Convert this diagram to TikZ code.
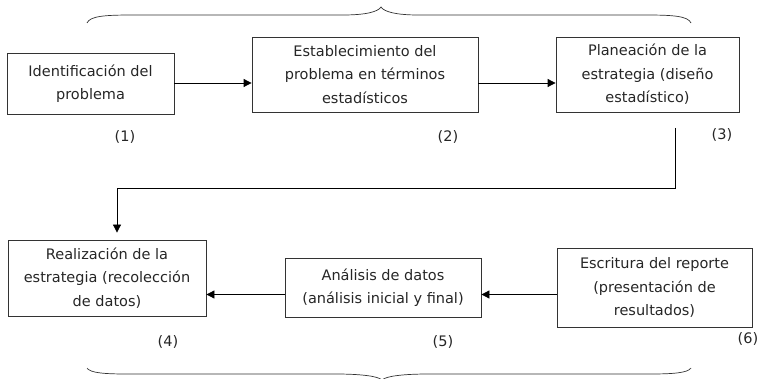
\documentclass[tikz,border=0pt]{standalone}
\usepackage{fontspec}
\setmainfont{DejaVu Sans}
\usetikzlibrary{arrows.meta}
\begin{document}
\begin{tikzpicture}[x=1pt,y=-1pt,
  stepbox/.style={draw=black!80, line width=0.8pt, align=center, inner sep=0pt,
    font=\fontsize{14.5}{23.5}\selectfont, text=black!85},
  tag/.style={font=\fontsize{14.5}{16}\selectfont, text=black!85, inner sep=0pt},
  arr/.style={line width=0.8pt, -{Triangle[length=8pt,width=8pt]}},
  brace/.style={line width=0.7pt, black!80}]
\useasboundingbox (0,0) rectangle (758,379);

% process steps
\node[stepbox, minimum width=167pt, minimum height=61pt] (b1) at (90.5,83.5)
  {Identificación del\\problema};
\node[stepbox, minimum width=226pt, minimum height=75pt] (b2) at (365,74.5)
  {Establecimiento del\\problema en términos\\estadísticos};
\node[stepbox, minimum width=183pt, minimum height=75pt] (b3) at (647.5,74.5)
  {Planeación de la\\estrategia (diseño\\estadístico)};
\node[stepbox, minimum width=198pt, minimum height=76pt] (b4) at (107,278)
  {Realización de la\\estrategia (recolección\\de datos)};
\node[stepbox, minimum width=196pt, minimum height=59pt] (b5) at (383,287.5)
  {Análisis de datos\\(análisis inicial y final)};
\node[stepbox, minimum width=195pt, minimum height=79pt] (b6) at (654.5,287.5)
  {Escritura del reporte\\(presentación de\\resultados)};

% step numbers
\node[tag] (t1) at (125,137) {(1)};
\node[tag] (t2) at (448,137) {(2)};
\node[tag] (t3) at (722,135) {(3)};
\node[tag] (t4) at (168,342) {(4)};
\node[tag] (t5) at (443,342) {(5)};
\node[tag] (t6) at (748,339) {(6)};

% connectors
\coordinate (r1) at (0,83);
\coordinate (r2) at (0,294.5);
\draw[arr] (b1.east |- r1) -- (b2.west |- r1);
\draw[arr] (b2.east |- r1) -- (b3.west |- r1);
\draw[arr] (b5.west |- r2) -- (b4.east |- r2);
\draw[arr] (b6.west |- r2) -- (b5.east |- r2);

\coordinate (c3) at (675,128);
\coordinate (k) at (117,188);
\draw[arr, shorten >=7pt] (c3) |- (k) -- (k |- b4.north);

% braces over and under the rows
\draw[brace] (87,23) .. controls (90,16) and (105,15) .. (133,15)
  -- (343,15) .. controls (365,15) and (378,12) .. (381,7)
  .. controls (384,12) and (397,15) .. (418,15)
  -- (645,15) .. controls (673,15) and (688,16) .. (691,23);
\draw[brace] (87,368) .. controls (90,373) and (105,374) .. (127,374)
  -- (335,374) .. controls (360,374) and (378,376) .. (382,380)
  .. controls (386,376) and (404,374) .. (429,374)
  -- (650,374) .. controls (672,374) and (688,373) .. (691,368);
\end{tikzpicture}
\end{document}
